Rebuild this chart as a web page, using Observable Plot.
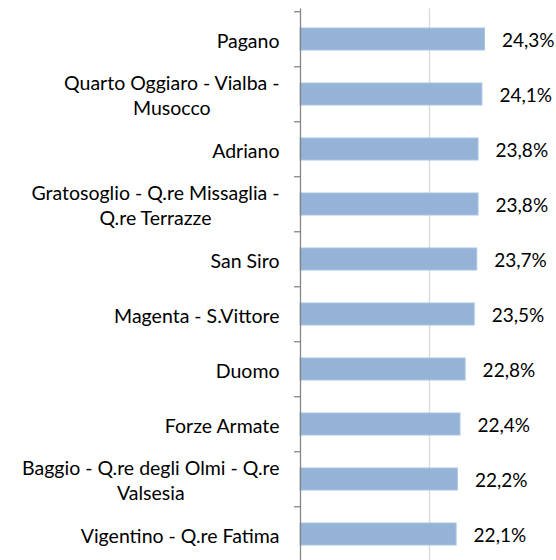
<!DOCTYPE html>
<html>
<head>
<meta charset="utf-8">
<script src="https://cdn.jsdelivr.net/npm/d3@7"></script>
<script src="https://cdn.jsdelivr.net/npm/@observablehq/plot@0.6"></script>
<style>
  html, body { margin: 0; padding: 0; background: #fff; }
  #chart svg { display: block; }
</style>
</head>
<body>
<div id="chart"></div>
<script>
const districts = [
  "Pagano",
  "Quarto Oggiaro - Vialba -\nMusocco",
  "Adriano",
  "Gratosoglio - Q.re Missaglia -\nQ.re Terrazze",
  "San Siro",
  "Magenta - S.Vittore",
  "Duomo",
  "Forze Armate",
  "Baggio - Q.re degli Olmi - Q.re\nValsesia",
  "Vigentino - Q.re Fatima"
];
const shares = [24.3, 24.1, 23.8, 23.8, 23.7, 23.5, 22.8, 22.4, 22.2, 22.1];
const xDomain = [10, 30];
const gridValues = [20];

const data = districts.map((d, i) => ({district: d, share: shares[i]}));
const fmt = v => v.toFixed(1).replace(".", ",") + "%";

const W = 556, H = 560;
const yTop = 8.5, yBottom = 563.5;
const step = (yBottom - yTop) / districts.length;
const font = "Lato, 'Noto Sans', sans-serif";

const chart = Plot.plot({
  width: W,
  height: H,
  marginTop: yTop,
  marginBottom: 0,
  marginLeft: 300,
  marginRight: 0,
  style: {fontFamily: font, fontSize: "19.5px", color: "#000", background: "#fff"},
  x: {domain: xDomain, range: [300, 558], axis: null},
  y: {domain: districts, range: [yTop, yBottom], paddingInner: 0.6, paddingOuter: 0.3, axis: null},
  marks: [
    Plot.ruleX(gridValues, {stroke: "#d9d9d9", strokeWidth: 1.3}),
    Plot.barX(data, {
      x1: xDomain[0], x2: "share", y: "district",
      fill: "#95b3d7", stroke: "#a9c3e2", strokeWidth: 1
    }),
    Plot.ruleX([xDomain[0]], {stroke: "#868686", strokeWidth: 1.3}),
    Plot.axisY({
      anchor: "left", tickSize: 6, tickFormat: () => "", stroke: "#868686",
      strokeWidth: 1.3, dy: -step / 2, tickPadding: 0, label: null
    }),
    Plot.axisY({
      anchor: "left", tickSize: 0, tickPadding: 21, fontSize: 19.5,
      lineHeight: 1.28, fill: "#000", tickFormat: d => d, label: null
    }),
    Plot.text(data, {
      x: "share", y: "district", text: d => fmt(d.share),
      dx: 17, dy: 1.5, textAnchor: "start", fontSize: 19, fill: "#000"
    })
  ]
});
document.getElementById("chart").append(chart);

// Centre the lines of wrapped category labels on each other, keeping the block right-aligned.
chart.querySelectorAll("text").forEach(t => {
  const spans = t.querySelectorAll("tspan");
  if (spans.length > 1) {
    const w = t.getBBox().width;
    t.setAttribute("text-anchor", "middle");
    t.style.textAnchor = "middle";
    spans.forEach(s => s.setAttribute("x", -w / 2));
  }
});
</script>
</body>
</html>
